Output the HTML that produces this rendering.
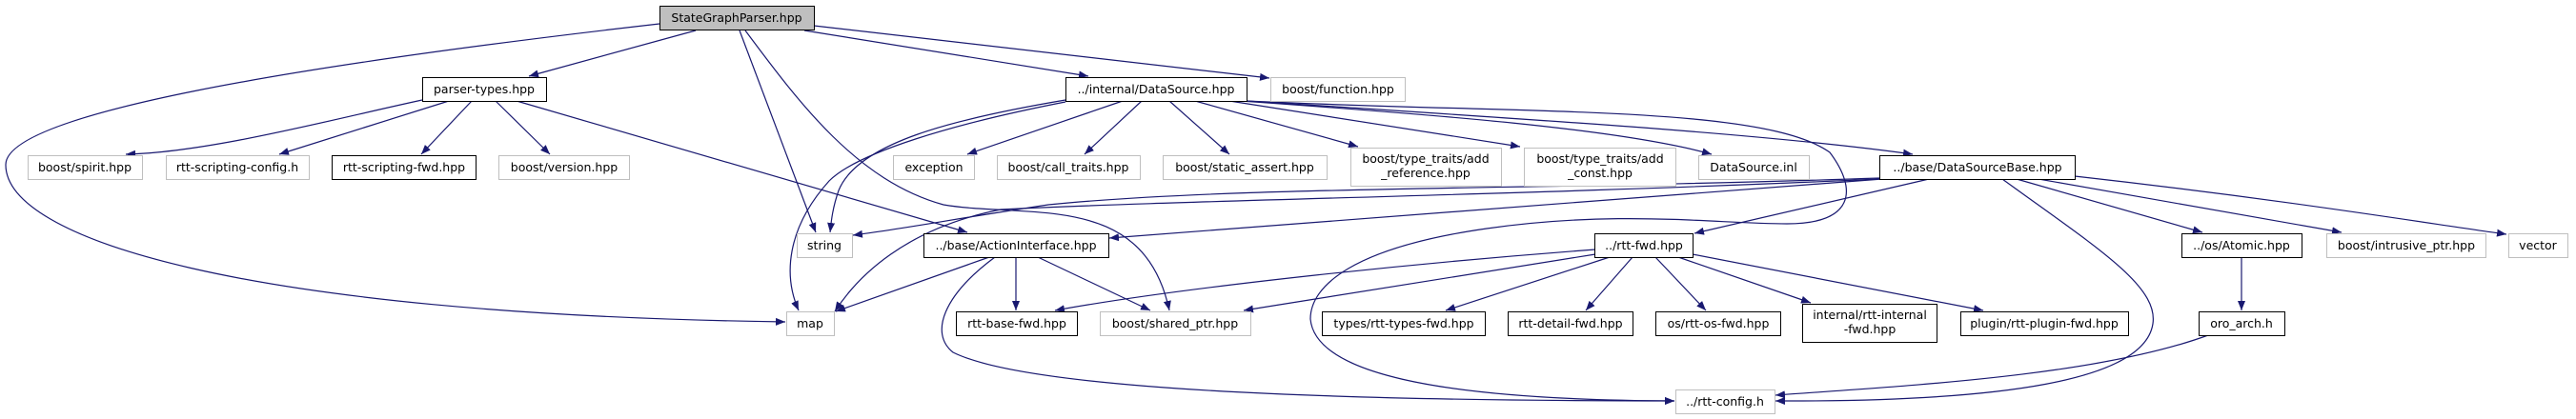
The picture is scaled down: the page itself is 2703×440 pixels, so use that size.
<!DOCTYPE html>
<html><head><meta charset="utf-8"><style>
html,body{margin:0;padding:0;background:#fff;}
svg{display:block;}
text{font-family:"DejaVu Sans","Liberation Sans",sans-serif;font-size:12.5px;fill:#000;}
.e{fill:none;stroke:#191970;stroke-width:1.2;}
.g{fill:#fff;stroke:#bfbfbf;stroke-width:1;}
.b{fill:#fff;stroke:#000;stroke-width:1;}
</style></head><body>
<svg width="2703" height="440" viewBox="0 0 2703 440" xmlns="http://www.w3.org/2000/svg">
<defs><marker id="a" viewBox="0 0 10 8" refX="10" refY="4" markerWidth="10" markerHeight="8" markerUnits="userSpaceOnUse" orient="auto"><path d="M0,0L10,4L0,8z" fill="#191970"/></marker></defs>
<g marker-end="url(#a)">
<path class="e" d="M692,25 C300,70 6,120 6,173 C6,250 250,330 824,338"/>
<path class="e" d="M730,32 L555,80"/>
<path class="e" d="M776,32 L856,244"/>
<path class="e" d="M782,32 C840,110 900,190 990,215 C1080,230 1200,200 1227,326"/>
<path class="e" d="M844,32 L1142,80"/>
<path class="e" d="M854,27 L1332,82"/>
<path class="e" d="M443,105 C350,125 220,160 132,162"/>
<path class="e" d="M471,106 L293,162"/>
<path class="e" d="M495,106 L442,162"/>
<path class="e" d="M520,106 L577,162"/>
<path class="e" d="M542,106 L1015,244"/>
<path class="e" d="M1178,106 L1015,162"/>
<path class="e" d="M1198,106 L1138,162"/>
<path class="e" d="M1227,106 L1290,162"/>
<path class="e" d="M1254,106 L1425,154"/>
<path class="e" d="M1290,106 L1595,154"/>
<path class="e" d="M1302,106 C1500,120 1700,135 1796,162"/>
<path class="e" d="M1308,106 C1600,125 1850,140 2007,162"/>
<path class="e" d="M1118,105 C1000,125 900,150 880,200 C873,220 872,235 871,244"/>
<path class="e" d="M1118,107 C1000,130 900,160 870,190 C825,240 822,290 838,326"/>
<path class="e" d="M1308,106 C1600,120 1850,110 1920,160 C1950,200 1945,235 1875,235 C1800,235 1700,220 1560,240 C1420,260 1375,300 1375,335 C1380,390 1500,420 1757,421"/>
<path class="e" d="M1972,187 C1600,200 1300,195 1100,215 C1000,230 950,240 895,247"/>
<path class="e" d="M1972,188 C1600,205 1250,210 1050,220 C950,240 900,290 876,327"/>
<path class="e" d="M1975,188 L1164,250"/>
<path class="e" d="M2024,188 L1778,245"/>
<path class="e" d="M2101,188 C2200,260 2265,300 2259,340 C2250,400 2100,422 1863,421"/>
<path class="e" d="M2116,188 L2311,244"/>
<path class="e" d="M2139,188 L2457,244"/>
<path class="e" d="M2177,185 C2400,210 2550,235 2630,246"/>
<path class="e" d="M1038,270 L877,327"/>
<path class="e" d="M1066,270 L1066,326"/>
<path class="e" d="M1089,270 L1207,326"/>
<path class="e" d="M1044,270 C990,310 975,350 1000,370 C1080,410 1400,421 1757,421"/>
<path class="e" d="M1674,262 C1500,275 1250,300 1107,326"/>
<path class="e" d="M1674,267 L1305,326"/>
<path class="e" d="M1689,270 L1517,326"/>
<path class="e" d="M1713,270 L1664,326"/>
<path class="e" d="M1737,270 L1790,326"/>
<path class="e" d="M1761,270 L1900,318"/>
<path class="e" d="M1776,267 L2081,326"/>
<path class="e" d="M2352,270 L2352,326"/>
<path class="e" d="M2317,352 C2200,395 2000,405 1863,415"/>
</g>
<rect x="692.5" y="6.5" width="162" height="25" fill="#bfbfbf" stroke="#000"/><text x="773" y="23" text-anchor="middle">StateGraphParser.hpp</text>
<rect class="b" x="443.5" y="81.5" width="130" height="25"/><text x="508" y="98" text-anchor="middle">parser-types.hpp</text>
<rect class="b" x="1118.5" y="81.5" width="190" height="25"/><text x="1213" y="98" text-anchor="middle">../internal/DataSource.hpp</text>
<rect class="g" x="1333.5" y="81.5" width="141" height="25"/><text x="1404" y="98" text-anchor="middle">boost/function.hpp</text>
<rect class="g" x="29.5" y="163.5" width="120" height="25"/><text x="89" y="180" text-anchor="middle">boost/spirit.hpp</text>
<rect class="g" x="174.5" y="163.5" width="150" height="25"/><text x="249" y="180" text-anchor="middle">rtt-scripting-config.h</text>
<rect class="b" x="348.5" y="163.5" width="151" height="25"/><text x="424" y="180" text-anchor="middle">rtt-scripting-fwd.hpp</text>
<rect class="g" x="523.5" y="163.5" width="137" height="25"/><text x="592" y="180" text-anchor="middle">boost/version.hpp</text>
<rect class="g" x="937.5" y="163.5" width="85" height="25"/><text x="980" y="180" text-anchor="middle">exception</text>
<rect class="g" x="1046.5" y="163.5" width="150" height="25"/><text x="1121" y="180" text-anchor="middle">boost/call_traits.hpp</text>
<rect class="g" x="1220.5" y="163.5" width="172" height="25"/><text x="1306" y="180" text-anchor="middle">boost/static_assert.hpp</text>
<rect class="g" x="1417.5" y="155.5" width="158" height="40"/><text x="1496" y="171" text-anchor="middle">boost/type_traits/add</text><text x="1496" y="186" text-anchor="middle">_reference.hpp</text>
<rect class="g" x="1599.5" y="155.5" width="159" height="40"/><text x="1679" y="171" text-anchor="middle">boost/type_traits/add</text><text x="1679" y="186" text-anchor="middle">_const.hpp</text>
<rect class="g" x="1782.5" y="163.5" width="116" height="25"/><text x="1840" y="180" text-anchor="middle">DataSource.inl</text>
<rect class="b" x="1972.5" y="163.5" width="205" height="25"/><text x="2075" y="180" text-anchor="middle">../base/DataSourceBase.hpp</text>
<rect class="g" x="836.5" y="245.5" width="58" height="25"/><text x="865" y="262" text-anchor="middle">string</text>
<rect class="b" x="969.5" y="245.5" width="194" height="25"/><text x="1066" y="262" text-anchor="middle">../base/ActionInterface.hpp</text>
<rect class="b" x="1673.5" y="245.5" width="103" height="25"/><text x="1725" y="262" text-anchor="middle">../rtt-fwd.hpp</text>
<rect class="b" x="2289.5" y="245.5" width="126" height="25"/><text x="2352" y="262" text-anchor="middle">../os/Atomic.hpp</text>
<rect class="g" x="2441.5" y="245.5" width="167" height="25"/><text x="2525" y="262" text-anchor="middle">boost/intrusive_ptr.hpp</text>
<rect class="g" x="2632.5" y="245.5" width="62" height="25"/><text x="2663" y="262" text-anchor="middle">vector</text>
<rect class="g" x="825.5" y="327.5" width="50" height="25"/><text x="850" y="344" text-anchor="middle">map</text>
<rect class="b" x="1003.5" y="327.5" width="127" height="25"/><text x="1067" y="344" text-anchor="middle">rtt-base-fwd.hpp</text>
<rect class="g" x="1154.5" y="327.5" width="158" height="25"/><text x="1233" y="344" text-anchor="middle">boost/shared_ptr.hpp</text>
<rect class="b" x="1387.5" y="327.5" width="171" height="25"/><text x="1473" y="344" text-anchor="middle">types/rtt-types-fwd.hpp</text>
<rect class="b" x="1582.5" y="327.5" width="131" height="25"/><text x="1648" y="344" text-anchor="middle">rtt-detail-fwd.hpp</text>
<rect class="b" x="1737.5" y="327.5" width="131" height="25"/><text x="1803" y="344" text-anchor="middle">os/rtt-os-fwd.hpp</text>
<rect class="b" x="1891.5" y="319.5" width="141" height="40"/><text x="1962" y="335" text-anchor="middle">internal/rtt-internal</text><text x="1962" y="350" text-anchor="middle">-fwd.hpp</text>
<rect class="b" x="2057.5" y="327.5" width="176" height="25"/><text x="2145" y="344" text-anchor="middle">plugin/rtt-plugin-fwd.hpp</text>
<rect class="b" x="2307.5" y="327.5" width="90" height="25"/><text x="2352" y="344" text-anchor="middle">oro_arch.h</text>
<rect class="g" x="1758.5" y="409.5" width="104" height="25"/><text x="1810" y="426" text-anchor="middle">../rtt-config.h</text>
</svg>
</body></html>
